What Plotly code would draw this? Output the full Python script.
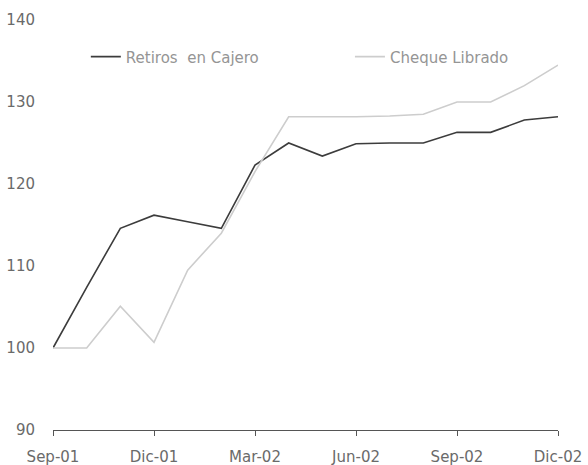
import plotly.graph_objects as go

months = ["Sep-01", "Oct-01", "Nov-01", "Dic-01", "Ene-02", "Feb-02", "Mar-02", "Abr-02",
          "May-02", "Jun-02", "Jul-02", "Ago-02", "Sep-02", "Oct-02", "Nov-02", "Dic-02"]
retiros_cajero = [100.0, 107.4, 114.6, 116.2, 115.4, 114.6, 122.3, 125.0,
                  123.4, 124.9, 125.0, 125.0, 126.3, 126.3, 127.8, 128.2]
cheque_librado = [100.0, 100.0, 105.1, 100.7, 109.5, 114.0, 121.5, 128.2,
                  128.2, 128.2, 128.3, 128.5, 130.0, 130.0, 132.0, 134.5]
x_ticks = ["Sep-01", "Dic-01", "Mar-02", "Jun-02", "Sep-02", "Dic-02"]
y_ticks = [90, 100, 110, 120, 130, 140]

FONT = "DejaVu Sans, Verdana, sans-serif"

fig = go.Figure()
fig.add_trace(go.Scatter(x=months, y=retiros_cajero, mode="lines", name="Retiros  en Cajero",
                         line=dict(color="#3c3c3c", width=1.6), legend="legend"))
fig.add_trace(go.Scatter(x=months, y=cheque_librado, mode="lines", name="Cheque Librado",
                         line=dict(color="#cdcdcd", width=1.6), legend="legend2"))

leg_common = dict(orientation="h", yanchor="middle", xanchor="left",
                  bgcolor="rgba(0,0,0,0)", font=dict(family=FONT, size=15, color="#959595"))
fig.update_layout(
    width=588, height=465,
    margin=dict(l=53, r=30, t=20, b=35, autoexpand=False),
    paper_bgcolor="white", plot_bgcolor="white",
    font=dict(family=FONT, size=15, color="#666"),
    showlegend=True,
    legend=dict(x=0.065, y=0.91, **leg_common),
    legend2=dict(x=0.588, y=0.91, **leg_common),
)
fig.update_xaxes(type="category", range=[0, 15], tickmode="array", tickvals=x_ticks,
                 ticktext=x_ticks, showgrid=False, showline=True, linecolor="#555",
                 linewidth=1, ticks="outside", ticklen=5, tickcolor="#555",
                 ticklabelstandoff=8, zeroline=False, automargin=False,
                 tickfont=dict(family=FONT, size=15, color="#6a6a6a"))
fig.update_yaxes(range=[90, 140], tickvals=y_ticks, showgrid=False, showline=False,
                 zeroline=False, ticks="", ticklabelstandoff=17, automargin=False,
                 tickfont=dict(family=FONT, size=15, color="#6a6a6a"))

fig.write_html("out.html", config={"displayModeBar": False})
with open("out.html", "r", encoding="utf-8") as f:
    html = f.read()
html = html.replace("<body>", '<body style="margin:0;padding:0;">', 1)
with open("out.html", "w", encoding="utf-8") as f:
    f.write(html)
